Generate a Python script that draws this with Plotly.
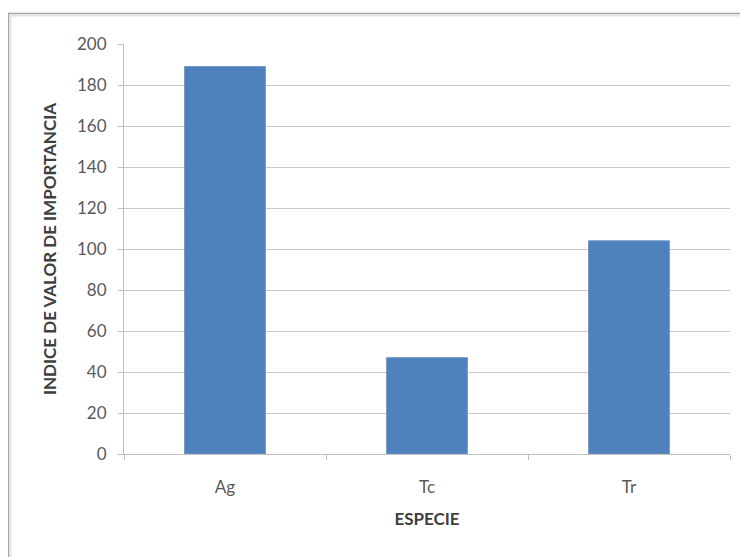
import plotly.graph_objects as go

categories = ["Ag", "Tc", "Tr"]
values = [189, 47, 104]
y_ticks = [0, 20, 40, 60, 80, 100, 120, 140, 160, 180, 200]

fig = go.Figure()
fig.add_trace(go.Bar(
    x=categories, y=values,
    marker=dict(color="#4F81BD", line=dict(color="#6f97c9", width=1)),
    width=0.4,
))

# page offset of 8px (body margin) compensated
OFF = 8
W, H = 740, 549
l, r, t, b = 124 - OFF, 18, 44 - OFF, 103
pw, ph = W - l - r, H - t - b

def px(x):
    return (x - OFF - l) / pw

def py(y):
    return 1 - (y - OFF - t) / ph

fig.add_shape(type="rect", xref="paper", yref="paper",
              x0=px(8.5), x1=px(800), y0=py(13.5), y1=py(700),
              line=dict(color="#a6a6a6", width=1.5), layer="below")
fig.add_shape(type="rect", xref="paper", yref="paper",
              x0=px(10.5), x1=px(800), y0=py(15.5), y1=py(700),
              line=dict(color="#e3e3e3", width=2), layer="below")

fig.update_layout(
    width=W, height=H,
    margin=dict(l=l, r=r, t=t, b=b),
    paper_bgcolor="white", plot_bgcolor="white",
    showlegend=False,
    bargap=0.6,
    font=dict(family="Lato, Open Sans, sans-serif", size=13, color="#595959"),
    xaxis=dict(
        type="category",
        showline=True, linecolor="#bfbfbf", linewidth=1,
        ticks="outside", tickson="boundaries", ticklen=5, tickcolor="#bfbfbf",
        showgrid=False,
        tickfont=dict(size=17, color="#595959"),
        ticklabelstandoff=18,
        title=dict(text="<b>ESPECIE</b>", font=dict(size=17, color="#404040"), standoff=16),
    ),
    yaxis=dict(
        range=[0, 200], tickvals=y_ticks,
        showline=True, linecolor="#bfbfbf", linewidth=1,
        ticks="outside", ticklen=5, tickcolor="#bfbfbf",
        showgrid=True, gridcolor="#c8c8c8", gridwidth=1,
        zeroline=False,
        tickfont=dict(size=17, color="#595959"),
        ticklabelstandoff=8,
        title=dict(text="<b>INDICE DE VALOR DE IMPORTANCIA</b>", font=dict(size=17, color="#404040"), standoff=16),
    ),
)

fig.write_html("out.html")
